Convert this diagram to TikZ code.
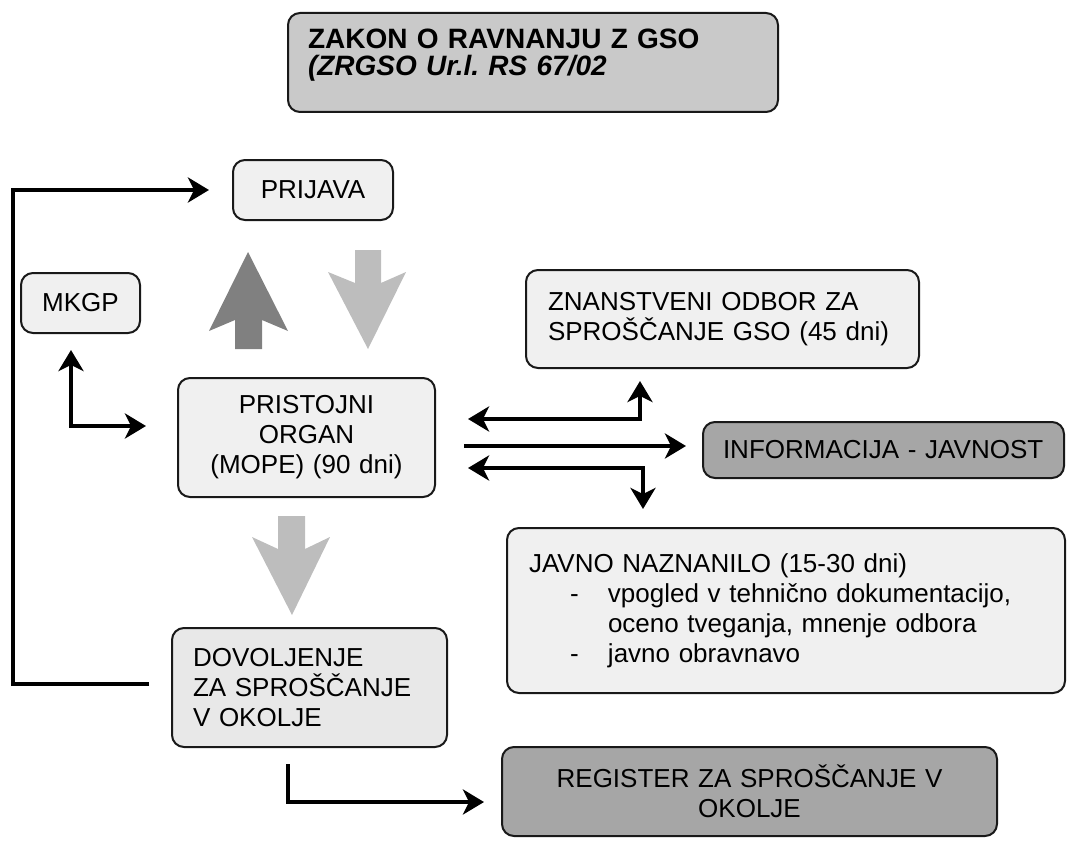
\documentclass[tikz,border=0pt]{standalone}
\usepackage{fontspec}
\setmainfont{Liberation Sans}
\usetikzlibrary{arrows.meta}
\definecolor{boxlight}{gray}{0.94}
\definecolor{boxmid}{gray}{0.91}
\definecolor{boxtitle}{gray}{0.79}
\definecolor{boxdark}{gray}{0.65}
\definecolor{arrowdark}{gray}{0.50}
\definecolor{arrowlight}{gray}{0.74}

\begin{document}
\begin{tikzpicture}[x=1pt,y=-1pt,
    stage/.style ={draw=black!90, line width=2pt, rounded corners=12pt, fill=boxlight,
                   inner sep=0pt, font=\fontsize{26}{30}\selectfont},
    flow/.style  ={line width=3.6pt, -{Stealth[length=21pt,width=25pt,inset=6pt]}},
    twoway/.style={line width=3.6pt, {Stealth[length=21pt,width=25pt,inset=6pt]}-{Stealth[length=21pt,width=25pt,inset=6pt]}}]
   \useasboundingbox (0,0) rectangle (1067,840);
   \node[stage, fill=boxtitle, minimum height=99pt, text width=450pt, inner xsep=20pt, align=left,
         font=\fontsize{28}{27}\selectfont\bfseries\frenchspacing] (zakon) at (533,62.5)
         {ZAKON O RAVNANJU Z GSO\\\textit{(ZRGSO Ur.l. RS 67/02}\\[-6pt]\mbox{}};
   \node[stage, minimum width=160pt, minimum height=60pt] (prijava) at (313,190) {PRIJAVA};
   \node[stage, minimum width=119pt, minimum height=60pt] (mkgp) at (80.5,303) {MKGP};
   \node[stage, minimum height=119pt, text width=257pt, align=center] (organ) at (306.5,437.5)
         {PRISTOJNI\\ORGAN\\(MOPE) (90 dni)};
   \node[stage, minimum height=98pt, text width=349pt, inner xsep=22pt, align=left] (odbor) at (722.5,319)
         {ZNANSTVENI ODBOR ZA\\SPROŠČANJE GSO (45 dni)};
   \node[stage, fill=boxdark, minimum height=56pt, text width=321pt, inner xsep=20pt, align=left] (javnost) at (883.5,450)
         {INFORMACIJA - JAVNOST};
   \node[stage, minimum height=165pt, text width=514pt, inner xsep=22pt, align=left] (naznanilo) at (786,610.5)
         {JAVNO NAZNANILO (15-30 dni)\\
          \hspace*{41pt}\makebox[38pt][l]{-}vpogled v tehnično dokumentacijo,\\
          \hspace*{79pt}oceno tveganja, mnenje odbora\\
          \hspace*{41pt}\makebox[38pt][l]{-}javno obravnavo};
   \node[stage, fill=boxmid, minimum height=119pt, text width=233pt, inner xsep=21pt, align=left] (dovoljenje) at (309.5,687.5)
         {DOVOLJENJE\\ZA SPROŠČANJE\\V OKOLJE};
   \node[stage, fill=boxdark, minimum height=89pt, text width=495pt, align=center] (register) at (749.5,791.5)
         {REGISTER ZA SPROŠČANJE V\\OKOLJE};
   \fill[arrowdark] (235,349) -- (235,320) -- (209,331) -- (248,252) -- (288,331) -- (262,320) -- (262,349) -- cycle;
   \fill[arrowlight] (355,250) -- (355,283) -- (328,272) -- (368,349) -- (406,272) -- (381,283) -- (381,250) -- cycle;
   \fill[arrowlight] (278,516) -- (278,549) -- (252,537) -- (292,615) -- (330,537) -- (305,549) -- (305,516) -- cycle;
   \coordinate (loop) at (13,684);
   \coordinate (mkc) at (71,426);
   \coordinate (ctop) at (640,419);
   \coordinate (cmid) at (0,446);
   \coordinate (cbot) at (643,468);
   \coordinate (cdov) at (288,802);
   \draw[flow, shorten <=22pt, shorten >=23pt] (dovoljenje.west |- loop) -- (loop) |- (prijava.west);
   \draw[twoway, shorten <=16pt, shorten >=31pt] (mkgp.south -| mkc) -- (mkc) -- (organ.west |- mkc);
   \draw[twoway, shorten <=32pt, shorten >=12pt] (organ.east |- ctop) -- (ctop) -- (odbor.south -| ctop);
   \draw[flow, shorten <=28pt, shorten >=16pt] (organ.east |- cmid) -- (javnost.west |- cmid);
   \draw[twoway, shorten <=32pt, shorten >=18pt] (organ.east |- cbot) -- (cbot) -- (naznanilo.north -| cbot);
   \draw[flow, shorten <=16pt, shorten >=17pt] (dovoljenje.south -| cdov) -- (cdov) -- (register.west |- cdov);
\end{tikzpicture}
\end{document}
